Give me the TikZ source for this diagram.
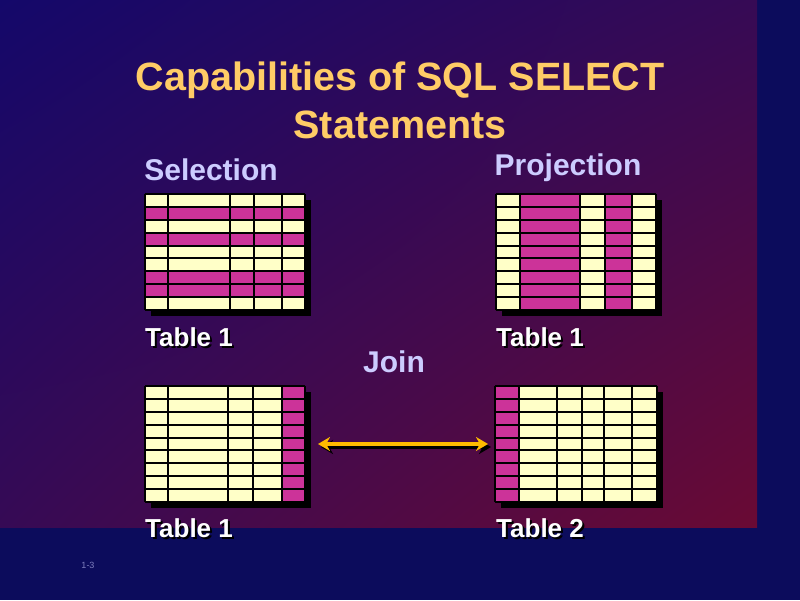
\documentclass[tikz,border=0pt]{standalone}
\usepackage{fontspec}
\setmainfont{Liberation Sans}
\usetikzlibrary{arrows.meta,shadings}
\definecolor{navy}{HTML}{0C0C5C}
\definecolor{slidetl}{HTML}{14086A}
\definecolor{slidebr}{HTML}{6A0A34}
\definecolor{slidemid}{HTML}{360A55}
\definecolor{cell}{HTML}{FFFFC8}
\definecolor{hilite}{HTML}{CC3399}
\definecolor{titlecol}{HTML}{FFCC66}
\definecolor{headcol}{HTML}{CCCCFF}
\definecolor{arrowcol}{HTML}{FFBB00}
\tikzset{
  titletext/.style={text=titlecol,font=\fontsize{39.5}{48}\selectfont\bfseries,align=center},
  headtext/.style={text=headcol,font=\fontsize{30}{34}\selectfont\bfseries},
  tabtext/.style={text=white,anchor=west,inner sep=0pt,font=\fontsize{26}{30}\selectfont\bfseries},
  tabshadow/.style={text=black,anchor=west,inner sep=0pt,font=\fontsize{26}{30}\selectfont\bfseries},
  gridline/.style={black,line width=2pt}
}
% table: x-list of column edges, top, bottom
\newcommand{\sqltab}[3]{%
  \foreach \xx [count=\i] in {#1}{\ifnum\i=1 \xdef\tabL{\xx}\fi \xdef\tabR{\xx}}
  \fill[black] (\tabL+6,#2+6) rectangle (\tabR+6,#3+6);
  \fill[cell] (\tabL,#2) rectangle (\tabR,#3);
}
\newcommand{\tabgrid}[3]{%
  \foreach \xx in {#1} \draw[gridline] (\xx,#2) -- (\xx,#3);
  \foreach \r in {0,...,9} \draw[gridline] (\tabL,{#2+\r*(#3-#2)/9}) -- (\tabR,{#2+\r*(#3-#2)/9});
}
\begin{document}
\begin{tikzpicture}[x=1pt,y=-1pt]
  \useasboundingbox (0,0) rectangle (800,600);
  \fill[navy] (0,0) rectangle (800,600);
  \shade[upper left=slidetl,upper right=slidemid,lower left=slidemid,lower right=slidebr]
    (0,0) rectangle (757,527);

  % title
  \node[titletext] (title) at (400,100) {Capabilities of SQL SELECT\\Statements};
  \node[headtext] (sel) at (211,170) {Selection};
  \node[headtext] (proj) at (568,168) {Projection};
  \node[headtext] (join) at (394,362) {Join};

  % selection table
  \sqltab{145,168,230,254,282,305}{194}{310}
  \foreach \r in {1,3,6,7}
    \fill[hilite] (\tabL,{194+\r*116/9}) rectangle (\tabR,{194+(\r+1)*116/9});
  \tabgrid{145,168,230,254,282,305}{194}{310}

  % projection table
  \sqltab{496,520,580,605,632,656}{194}{310}
  \fill[hilite] (520,194) rectangle (580,310);
  \fill[hilite] (605,194) rectangle (632,310);
  \tabgrid{496,520,580,605,632,656}{194}{310}

  % join table 1
  \sqltab{145,168,228,253,282,305}{386}{502}
  \fill[hilite] (282,386) rectangle (305,502);
  \tabgrid{145,168,228,253,282,305}{386}{502}
  \coordinate (j1e) at (318,444);

  % join table 2
  \sqltab{495,519,557,582,604,632,657}{386}{502}
  \fill[hilite] (495,386) rectangle (519,502);
  \tabgrid{495,519,557,582,604,632,657}{386}{502}
  \coordinate (j2w) at (488,444);

  % join arrow
  \draw[black,line width=4pt,{Stealth[length=12pt,width=14pt]}-{Stealth[length=12pt,width=14pt]}]
    ([shift={(3,3)}]j1e) -- ([shift={(3,3)}]j2w);
  \draw[arrowcol,line width=4pt,{Stealth[length=12pt,width=14pt]}-{Stealth[length=12pt,width=14pt]}]
    (j1e) -- (j2w);

  % table labels
  \foreach \n/\x/\y/\t in {ta/145/337/Table 1,tb/496/337/Table 1,tc/145/528/Table 1,td/496/528/Table 2}{
    \node[tabshadow] at (\x+2,\y+2) {\t};
    \node[tabtext] (\n) at (\x,\y) {\t};
  }
  \node[text=headcol!60!navy,font=\fontsize{9}{10}\selectfont] (pg) at (88,565) {1-3};
\end{tikzpicture}
\end{document}
